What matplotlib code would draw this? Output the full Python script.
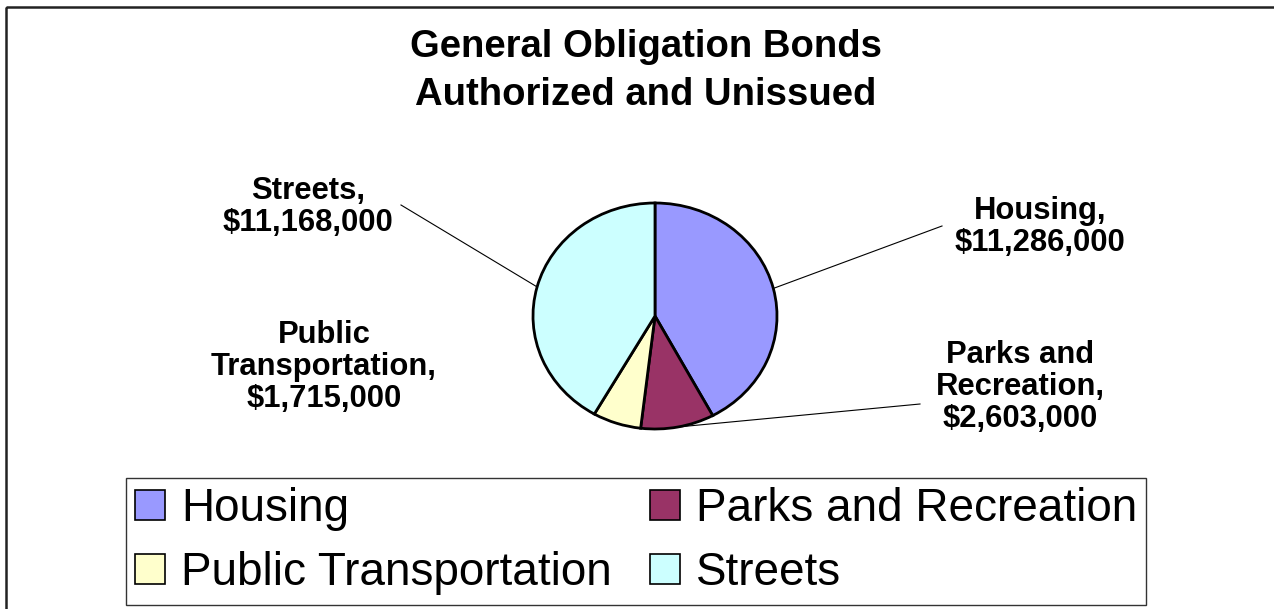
import numpy as np
import matplotlib
matplotlib.use("Agg")
import matplotlib.pyplot as plt
from matplotlib.patches import Patch, Rectangle

plt.rcParams["font.family"] = ["Liberation Sans", "DejaVu Sans"]

# data
categories = ["Housing", "Parks and Recreation", "Public Transportation", "Streets"]
amounts = [11286000, 2603000, 1715000, 11168000]
colors = ["#9999FF", "#993366", "#FFFFCC", "#CCFFFF"]
label_text = [
    "Housing,\n$11,286,000",
    "Parks and\nRecreation,\n$2,603,000",
    "Public\nTransportation,\n$1,715,000",
    "Streets,\n$11,168,000",
]
title_lines = ["General Obligation Bonds", "Authorized and Unissued"]

W, H = 1274, 609
fig = plt.figure(figsize=(W / 100, H / 100), dpi=100)

# full-figure axes in pixel coords for labels, leader lines, frame
bg = fig.add_axes([0, 0, 1, 1])
bg.set_xlim(0, W)
bg.set_ylim(H, 0)
bg.axis("off")

# pie geometry (pixels)
cx, cy, rx, ry = 655, 316, 122, 113
ax = fig.add_axes([(cx - rx) / W, (H - cy - ry) / H, 2 * rx / W, 2 * ry / H])
wedges, _ = ax.pie(
    amounts,
    colors=colors,
    startangle=90,
    counterclock=False,
    radius=1.0,
    wedgeprops=dict(edgecolor="black", linewidth=2.0),
)
ax.set_aspect("auto")
ax.set_xlim(-1, 1)
ax.set_ylim(-1, 1)
ax.axis("off")

# title
for line, base in zip(title_lines, [57, 105]):
    bg.text(646, base, line, ha="center", va="baseline", fontsize=27.5,
            fontweight="bold")

# data labels and leader lines
label_pos = [(1040, 227), (1020, 387), (324, 367), (308, 207)]
line_end = [(942, 226), (920, 404), None, (401, 205)]

fracs = np.array(amounts) / np.sum(amounts)
cum = np.cumsum(fracs) - fracs / 2
for i, (txt, (lx, ly)) in enumerate(zip(label_text, label_pos)):
    bg.text(lx, ly, txt, ha="center", va="center", fontsize=22.3,
            fontweight="bold", linespacing=1.09)
    if line_end[i] is not None:
        ang = np.deg2rad(90 - 360 * cum[i])
        ex, ey = cx + rx * np.cos(ang), cy - ry * np.sin(ang)
        bg.plot([ex, line_end[i][0]], [ey, line_end[i][1]],
                color="black", linewidth=0.8)

# outer frame
bg.add_patch(Rectangle((6, 7), W, H, fill=False, edgecolor="#222222",
                       linewidth=1.8))

# legend (row order: Housing, Parks / Public, Streets)
order = [0, 2, 1, 3]
handles = [Patch(facecolor=colors[i], edgecolor="black", linewidth=1.2)
           for i in order]
leg = fig.legend(
    handles, [categories[i] for i in order],
    loc="upper left",
    bbox_to_anchor=(126 / W, 1 - 478 / H),
    ncol=2,
    fontsize=33,
    frameon=True,
    fancybox=False,
    edgecolor="black",
    handlelength=0.655,
    handleheight=0.61,
    handletextpad=0.35,
    columnspacing=0.82,
    labelspacing=0.44,
    borderpad=0.2,
    borderaxespad=0,
)
leg.get_frame().set_linewidth(1.0)

fig.savefig("out.png", dpi=100)
